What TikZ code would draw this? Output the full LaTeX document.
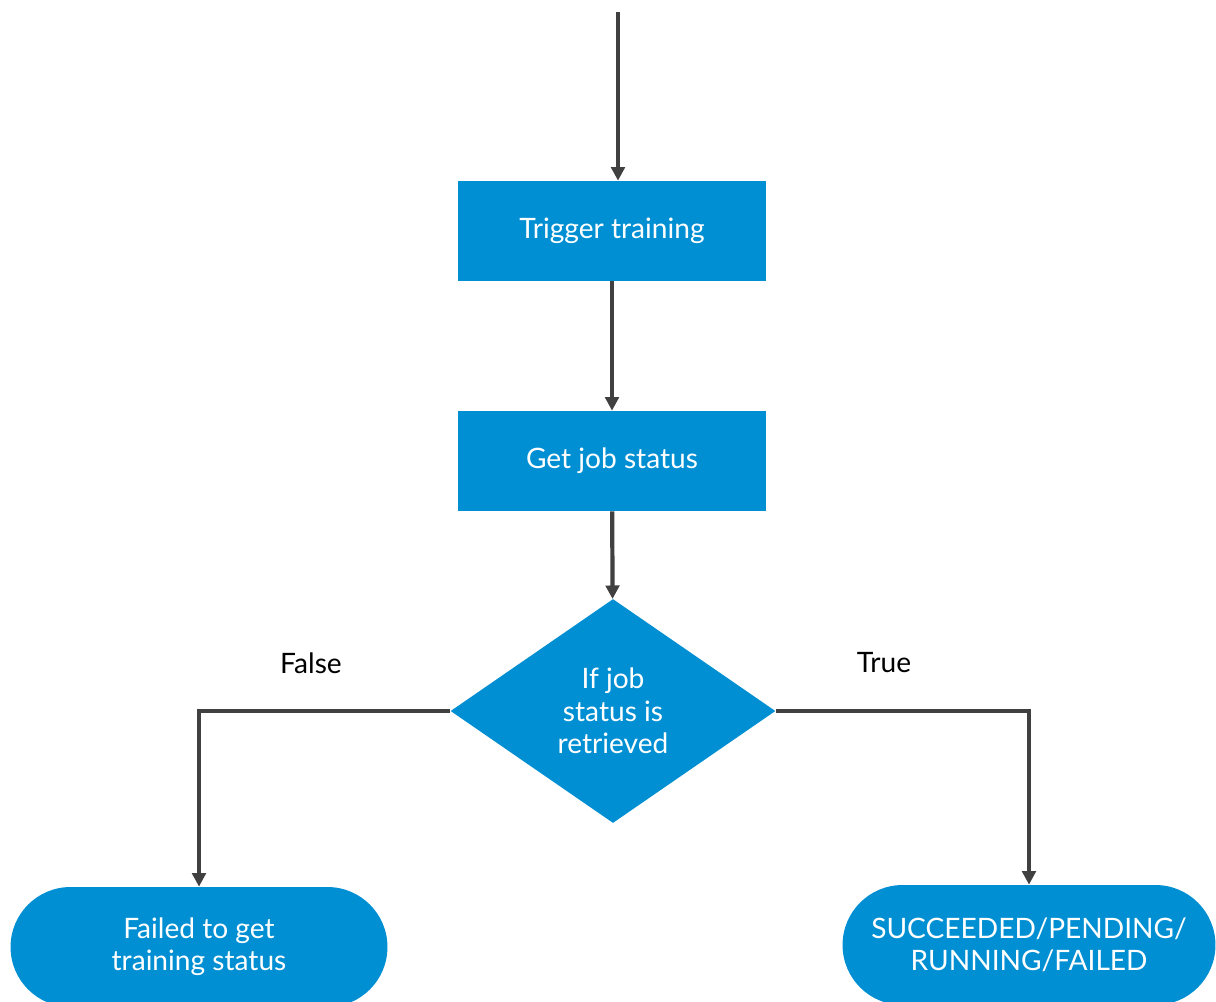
\documentclass[tikz,border=0pt]{standalone}
\usepackage{fontspec}
\setmainfont{Lato}
\usetikzlibrary{shapes.geometric,arrows.meta}
\definecolor{sapblue}{HTML}{008FD3}
\definecolor{flowgray}{HTML}{404040}

\tikzset{
  stepbox/.style={fill=sapblue,text=white,minimum width=6.16cm,minimum height=2cm,inner sep=0pt,font=\fontsize{16}{18}\selectfont},
  decide/.style={diamond,fill=sapblue,text=white,aspect=1.45,minimum width=6.5cm,minimum height=4.48cm,inner sep=0pt,align=center,font=\fontsize{16}{18.5}\selectfont},
  endbox/.style={fill=sapblue,text=white,rounded corners=1.2cm,minimum height=2.4cm,inner sep=0pt,align=center,font=\fontsize{16}{18}\selectfont},
  lbl/.style={font=\fontsize{16}{18}\selectfont},
  flow/.style={draw=flowgray,line width=2.4pt,-{Triangle[length=0.27cm,width=0.27cm]}}
}

\begin{document}
\begin{tikzpicture}[x=0.02cm,y=-0.02cm]
\useasboundingbox (0,0) rectangle (1216,1001);
\node[stepbox] (trig) at (612,231) {Trigger training};
\node[stepbox] (status) at (612,461) {Get job status};
\node[decide] (dec) at (613,711) {If job\\status is\\retrieved};
\node[endbox,minimum width=7.54cm] (fail) at (199,947) {Failed to get\\training status};
\node[endbox,minimum width=7.46cm] (done) at (1029,945) {SUCCEEDED/PENDING/\\RUNNING/FAILED};
\node[lbl] (nofalse) at (311,663) {False};
\node[lbl] (notrue) at (884,663) {True};
\coordinate (src) at (618,12);
% connectors
\draw[flow] (src) -- (src |- trig.north);
\draw[flow] (trig) -- (status);
\draw[flow] (status) -- (dec);
\draw[flow] (dec.west) -| (fail.north);
\draw[flow] (dec.east) -| (done.north);
\end{tikzpicture}
\end{document}
